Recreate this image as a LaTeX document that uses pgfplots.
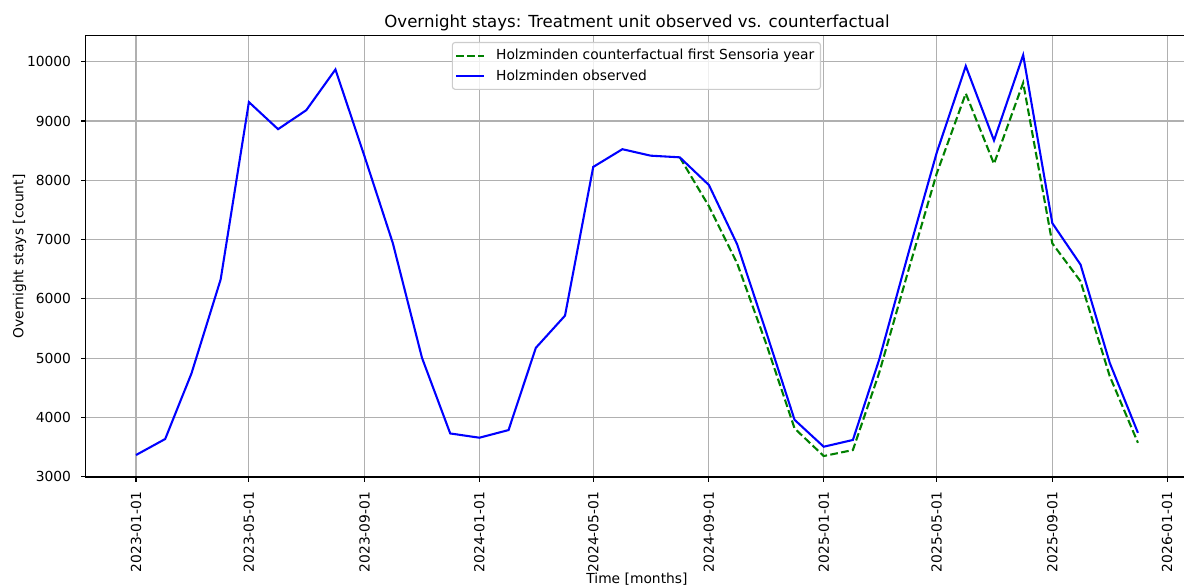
\documentclass[border=0pt]{standalone}
\usepackage{fontspec}
\setmainfont{DejaVu Sans}
\usepackage{pgfplots}
\pgfplotsset{compat=1.18}
\definecolor{gridgray}{HTML}{B0B0B0}
\definecolor{mplgreen}{RGB}{0,128,0}
\definecolor{mplblue}{RGB}{0,0,255}
\definecolor{legframe}{HTML}{CCCCCC}
\begin{document}
\begin{tikzpicture}
\useasboundingbox (-61.85bp,-77.76bp) rectangle (790.6bp,343.44bp);
\begin{axis}[
  at={(0,0)}, anchor=south west,
  scale only axis, width=793.5bp, height=317.7bp,
  xmin=-53.25, xmax=1118.25, ymin=2995, ymax=10439,
  scaled x ticks=false, scaled y ticks=false,
  xtick={0,120,243,365,486,609,731,851,974,1096},
  xticklabels={2023-01-01,2023-05-01,2023-09-01,2024-01-01,2024-05-01,2024-09-01,2025-01-01,2025-05-01,2025-09-01,2026-01-01},
  ytick={3000,4000,5000,6000,7000,8000,9000,10000},
  yticklabels={3000,4000,5000,6000,7000,8000,9000,10000},
  grid=major, major grid style={gridgray, line width=0.8bp},
  tick align=outside, major tick length=3.5bp,
  tick style={black, line width=0.8bp},
  tick pos=left,
  axis line style={line width=0.8bp},
  xticklabel style={rotate=90, anchor=east, inner sep=0pt, font=\fontsize{10}{12}\selectfont},
  yticklabel style={anchor=east, inner sep=0pt, font=\fontsize{10}{12}\selectfont},
  xticklabel shift=7bp, yticklabel shift=7bp,
  every axis title shift=0pt,
  title={Overnight stays: Treatment unit observed vs. counterfactual},
  title style={at={(axis description cs:0.5,1)}, anchor=base, yshift=6bp, inner sep=0pt, font=\fontsize{12}{14}\selectfont},
  xlabel={Time [months]},
  xlabel style={at={([yshift=-68.6bp]axis description cs:0.5,0)}, anchor=north, inner sep=0pt, font=\fontsize{10}{12}\selectfont},
  ylabel={Overnight stays [count]},
  ylabel style={at={([xshift=-42.8bp]axis description cs:0,0.5)}, anchor=south, rotate=0, inner sep=0pt, font=\fontsize{10}{12}\selectfont},
  legend image code/.code={\draw[#1] (0bp,0bp) -- (20bp,0bp);},
  legend cell align=left,
  legend style={at={(0.332,0.986)}, anchor=north west, draw=legframe, line width=0.8bp,
    rounded corners=2bp, fill=white, fill opacity=0.8, text opacity=1,
    font=\fontsize{10}{12}\selectfont, inner xsep=2bp, inner ysep=2.5bp,
    nodes={inner sep=2.5bp}, row sep=0.6bp, column sep=5.5bp},
]
\addplot[mplgreen, line width=1.5bp, dash pattern=on 5.55bp off 2.4bp] coordinates {
(578,8388) (609,7562) (639,6600) (670,5236) (700,3815) (731,3349) (762,3450)
(790,4754) (821,6480) (851,8110) (882,9465) (912,8278) (943,9645) (974,6936)
(1004,6297) (1035,4697) (1065,3572)};
\addlegendentry{Holzminden counterfactual first Sensoria year}
\addplot[mplblue, line width=1.5bp] coordinates {
(0,3366) (31,3636) (59,4744) (90,6329) (120,9320) (151,8863) (181,9183) (212,9870)
(243,8400) (273,6940) (304,5005) (334,3730) (365,3658) (396,3787) (425,5174) (456,5717)
(486,8226) (517,8525) (547,8416) (578,8388) (609,7920) (639,6920) (670,5433) (700,3960)
(731,3506) (762,3620) (790,4978) (821,6770) (851,8460) (882,9927) (912,8673) (943,10113)
(974,7277) (1004,6578) (1035,4922) (1065,3740)};
\addlegendentry{Holzminden observed}
\end{axis}
\end{tikzpicture}
\end{document}
